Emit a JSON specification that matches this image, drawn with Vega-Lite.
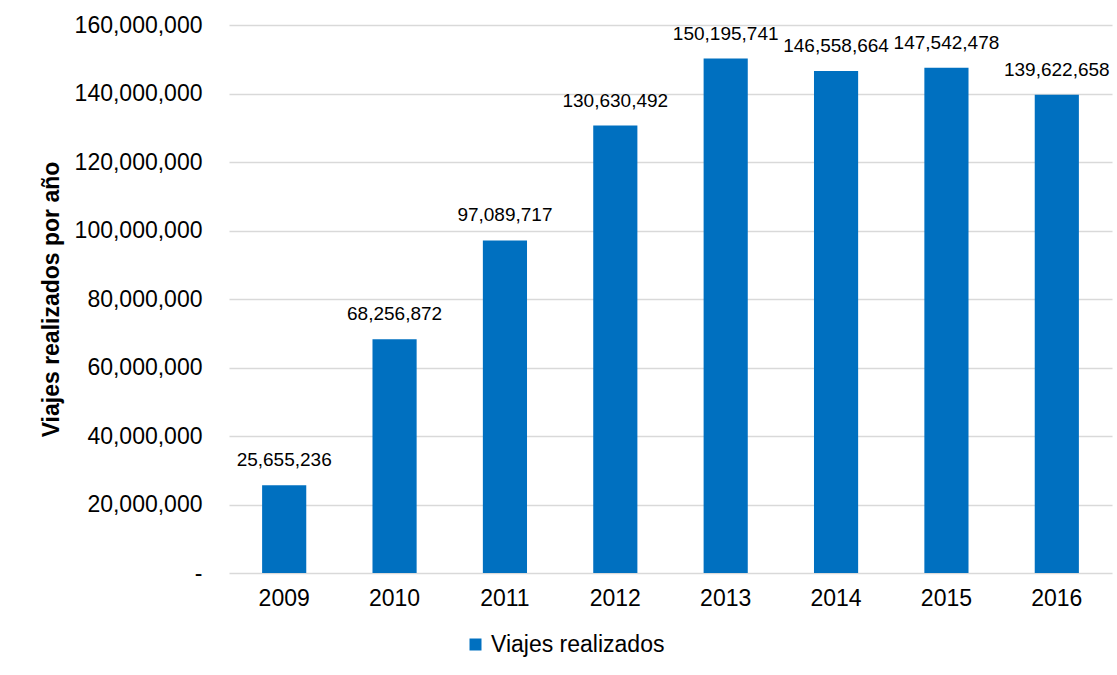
{
  "$schema": "https://vega.github.io/schema/vega-lite/v6.json",
  "autosize": {"type": "none"},
  "width": 883,
  "height": 548,
  "padding": {"left": 229, "top": 25, "right": 5, "bottom": 102},
  "background": "white",
  "data": {
    "values": [
      {"anio": "2009", "viajes": 25655236, "serie": "Viajes realizados"},
      {"anio": "2010", "viajes": 68256872, "serie": "Viajes realizados"},
      {"anio": "2011", "viajes": 97089717, "serie": "Viajes realizados"},
      {"anio": "2012", "viajes": 130630492, "serie": "Viajes realizados"},
      {"anio": "2013", "viajes": 150195741, "serie": "Viajes realizados"},
      {"anio": "2014", "viajes": 146558664, "serie": "Viajes realizados"},
      {"anio": "2015", "viajes": 147542478, "serie": "Viajes realizados"},
      {"anio": "2016", "viajes": 139622658, "serie": "Viajes realizados"}
    ]
  },
  "encoding": {
    "x": {
      "field": "anio",
      "type": "nominal",
      "sort": null,
      "scale": {"paddingInner": 0.6, "paddingOuter": 0.3},
      "axis": {
        "title": null,
        "labelAngle": 0,
        "labelFontSize": 23,
        "labelColor": "#000000",
        "labelPadding": 14,
        "ticks": false,
        "domain": false,
        "grid": false
      }
    },
    "y": {
      "field": "viajes",
      "type": "quantitative",
      "scale": {"domain": [0, 160000000], "nice": false},
      "axis": {
        "title": "Viajes realizados por año",
        "titleFontSize": 23,
        "titleFontWeight": "bold",
        "titleColor": "#000000",
        "titleX": -171,
        "titleY": 274,
        "titleAngle": -90,
        "titleAlign": "center",
        "titleBaseline": "alphabetic",
        "values": [0, 20000000, 40000000, 60000000, 80000000, 100000000, 120000000, 140000000, 160000000],
        "labelExpr": "datum.value == 0 ? '-\u00a0\u00a0\u00a0' : format(datum.value, ',')",
        "labelFontSize": 23,
        "labelColor": "#000000",
        "labelPadding": 27,
        "ticks": false,
        "domain": false,
        "grid": true,
        "gridColor": "#D9D9D9",
        "gridWidth": 1.5
      }
    }
  },
  "layer": [
    {
      "mark": {"type": "bar"},
      "encoding": {
        "color": {
          "field": "serie",
          "type": "nominal",
          "scale": {"range": ["#0070C0"]},
          "legend": {
            "title": null,
            "orient": "none",
            "legendX": 235,
            "legendY": 608,
            "symbolType": "square",
            "symbolSize": 144,
            "symbolStrokeWidth": 0,
            "labelFontSize": 23,
            "labelColor": "#000000",
            "labelOffset": 4,
            "labelLimit": 400,
            "padding": 0
          }
        }
      }
    },
    {
      "mark": {"type": "text", "baseline": "alphabetic", "dy": -19, "fontSize": 19, "color": "#000000"},
      "encoding": {
        "text": {"field": "viajes", "type": "quantitative", "format": ","}
      }
    }
  ],
  "config": {
    "font": "Liberation Sans",
    "view": {"stroke": null}
  }
}
